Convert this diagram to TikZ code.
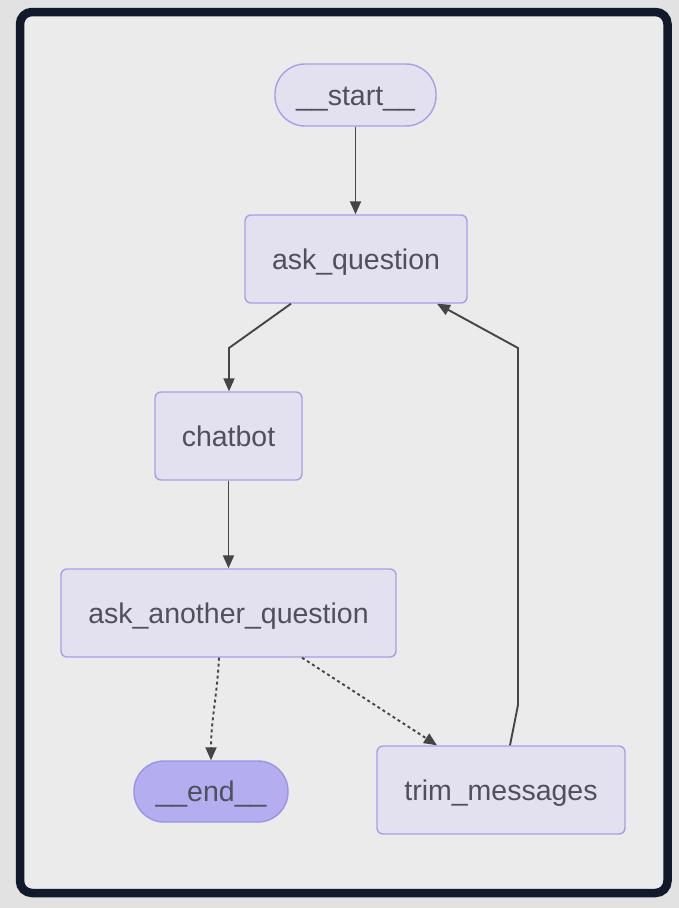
\documentclass[tikz,border=0pt]{standalone}
\usepackage{fontspec}
\setmainfont{Liberation Sans}
\usetikzlibrary{arrows.meta,calc}
\definecolor{outerbg}{HTML}{E2E2E2}
\definecolor{innerbg}{HTML}{ECEBEB}
\definecolor{framec}{HTML}{111A2A}
\definecolor{nodefill}{HTML}{E3E0F0}
\definecolor{nodeborder}{HTML}{A99EE6}
\definecolor{endfill}{HTML}{B4AEF0}
\definecolor{endborder}{HTML}{9C92E4}
\definecolor{txt}{HTML}{50505A}
\definecolor{edgec}{HTML}{454545}
\tikzset{
  box/.style={draw=nodeborder, fill=nodefill, line width=1.4pt, rounded corners=6pt,
    text=txt, font=\fontsize{28.5}{32}\selectfont, inner sep=0pt, minimum height=88pt,
    text height=20pt, text depth=0pt},
  pill/.style={box, rounded corners=30pt, minimum height=62pt},
  conn/.style={draw=edgec, line width=1.9pt, -{Triangle[length=13pt,width=11pt]}},
  dotconn/.style={conn, dash pattern=on 3pt off 3pt}
}
\begin{document}
\begin{tikzpicture}[x=1pt,y=-1pt]
\useasboundingbox (0,0) rectangle (679,908);
\fill[outerbg] (0,0) rectangle (679,908);
\draw[framec, fill=innerbg, line width=8.5pt, rounded corners=12pt] (20,12) rectangle (667.5,893);
\node[pill, minimum width=161pt] (start) at (355.5,95) {\_\_start\_\_};
\node[box, minimum width=222pt] (aq) at (356,259) {ask\_question};
\node[box, minimum width=147pt] (cb) at (228.5,436) {chatbot};
\node[box, minimum width=335pt] (aaq) at (228.5,613) {ask\_another\_question};
\node[pill, fill=endfill, draw=endborder, minimum width=154pt, minimum height=61pt] (end) at (211,791.5) {\_\_end\_\_};
\node[box, minimum width=248pt] (trim) at (501,790) {trim\_messages};
\coordinate (k1) at (229,348);
\coordinate (k2) at (518,705);
\coordinate (k3) at (518,348);
\draw[conn] (start.south) -- (start.south |- aq.north);
\draw[conn] ([xshift=-65pt]aq.south) -- (k1) -- (k1 |- cb.north);
\draw[conn] (cb.south) -- (cb.south |- aaq.north);
\draw[dotconn] ([xshift=-9.5pt]aaq.south) to[out=-93,in=90] (end.north);
\draw[dotconn] ([xshift=73.5pt]aaq.south) -- ([xshift=-64pt]trim.north);
\draw[conn] ([xshift=9pt]trim.north) -- (k2) -- (k3) -- ([xshift=81pt]aq.south);
\end{tikzpicture}
\end{document}
